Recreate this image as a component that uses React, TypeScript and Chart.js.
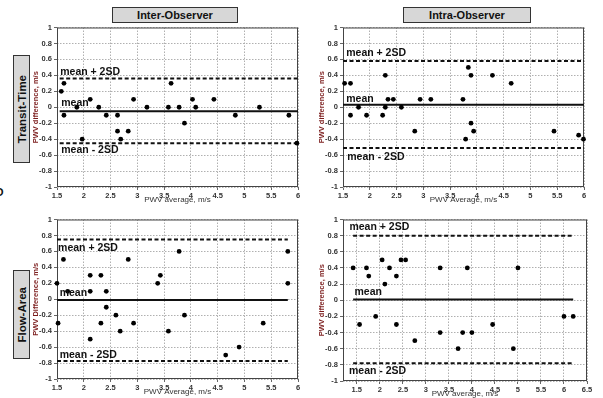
import React, { useEffect, useRef } from "react";
import { Chart, registerables } from "chart.js";
Chart.register(...registerables);

// ---------- Data ----------
// Panel 1: Transit-Time, Inter-Observer
const ttInterAvg = [1.58, 1.63, 1.63, 1.87, 2.12, 1.97, 2.28, 2.42, 2.63, 2.63, 2.69, 2.83, 2.93, 3.18, 3.58, 3.63, 3.78, 3.88, 4.03, 4.09, 4.43, 4.83, 5.28, 5.83, 5.98];
const ttInterDiff = [0.2, 0.3, -0.1, 0, 0.1, -0.4, 0, -0.1, -0.1, -0.3, -0.4, -0.3, 0.1, 0, 0, 0.3, 0, -0.2, 0.1, 0, 0.1, -0.1, 0, -0.1, -0.45];
const ttInterLimits = [-0.05, 0.36, -0.45]; // mean, mean+2SD, mean-2SD
const ttInterSpan = [1.55, 6.0];

// Panel 2: Transit-Time, Intra-Observer
const ttIntraAvg = [1.53, 1.64, 1.64, 1.79, 1.94, 2.24, 2.29, 2.29, 2.34, 2.44, 2.59, 2.84, 2.94, 3.14, 3.74, 3.84, 3.89, 3.79, 3.89, 3.94, 4.29, 4.64, 5.44, 5.9, 5.99];
const ttIntraDiff = [0.3, 0.3, -0.1, 0, -0.1, -0.1, 0.4, 0, 0.1, 0.1, 0, -0.3, 0.1, 0.1, 0.1, 0.5, 0.4, -0.4, -0.2, -0.3, 0.4, 0.3, -0.3, -0.35, -0.4];
const ttIntraLimits = [0.03, 0.58, -0.51];
const ttIntraSpan = [1.5, 6.0];

// Panel 3: Flow-Area, Inter-Observer
const faInterAvg = [1.5, 1.52, 1.62, 1.7, 2.12, 2.12, 2.12, 2.32, 2.32, 2.42, 2.42, 2.6, 2.68, 2.83, 2.93, 3.38, 3.43, 3.58, 3.78, 3.88, 4.65, 4.9, 5.35, 5.81, 5.81];
const faInterDiff = [0.2, -0.3, 0.5, 0.1, 0.3, 0.1, -0.5, 0.3, -0.3, 0.1, -0.1, -0.2, -0.4, 0.5, -0.3, 0.2, 0.3, -0.4, 0.6, -0.2, -0.7, -0.6, -0.3, 0.6, 0.2];
const faInterLimits = [-0.01, 0.75, -0.775];
const faInterSpan = [1.5, 5.81];

// Panel 4: Flow-Area, Intra-Observer
const faIntraAvg = [1.42, 1.56, 1.71, 1.76, 1.91, 2.05, 2.11, 2.21, 2.36, 2.36, 2.46, 2.56, 2.76, 3.31, 3.31, 3.7, 3.8, 3.9, 4.0, 4.45, 4.9, 5.0, 6.0, 6.2];
const faIntraDiff = [0.4, -0.3, 0.4, 0.3, -0.2, 0.5, 0.2, 0.4, 0.3, -0.3, 0.5, 0.5, -0.5, 0.4, -0.4, -0.6, -0.4, 0.4, -0.4, -0.3, -0.6, 0.4, -0.2, -0.2];
const faIntraLimits = [0.01, 0.8, -0.78];
const faIntraSpan = [1.42, 6.2];

const limitLabels = ["mean", "mean + 2SD", "mean - 2SD"];
// label anchor positions (data units): [x, y] for mean, +2SD, -2SD
const ttInterLabelPos = [[1.58, 0.05], [1.56, 0.44], [1.58, -0.54]];
const ttIntraLabelPos = [[1.56, 0.1], [1.56, 0.68], [1.58, -0.62]];
const faInterLabelPos = [[1.55, 0.08], [1.52, 0.64], [1.55, -0.7]];
const faIntraLabelPos = [[1.45, 0.1], [1.34, 0.9], [1.33, -0.88]];

const columnTitles = ["Inter-Observer", "Intra-Observer"];
const rowTitles = ["Transit-Time", "Flow-Area"];

// ---------- Chart panel ----------
type PanelProps = {
  left: number; top: number; w: number; h: number;
  xMin: number; xMax: number;
  avg: number[]; diff: number[]; limits: number[]; span: number[];
  labelPos: number[][];
  xTitle: string; yTitle: string;
};

const FONT = "Arial, 'Liberation Sans', sans-serif";
const Y_AXIS_W = 30;
const X_AXIS_H = 19;
const PAD_T = 6;
const PAD_R = 8;

function Panel(p: PanelProps) {
  const ref = useRef<HTMLCanvasElement | null>(null);
  const cw = p.w + Y_AXIS_W + PAD_R;
  const ch = p.h + PAD_T + X_AXIS_H;

  useEffect(() => {
    if (!ref.current) return;
    const framePlugin = {
      id: "frame",
      beforeDatasetsDraw(chart: any) {
        const { ctx, chartArea: a } = chart;
        ctx.save();
        ctx.strokeStyle = "#444";
        ctx.lineWidth = 1;
        ctx.strokeRect(a.left + 0.5, a.top + 0.5, a.right - a.left - 1, a.bottom - a.top - 1);
        ctx.restore();
      },
    };
    const labelPlugin = {
      id: "limitLabels",
      afterDatasetsDraw(chart: any) {
        const { ctx } = chart;
        const xs = chart.scales.x;
        const ys = chart.scales.y;
        ctx.save();
        ctx.font = `bold 10.5px ${FONT}`;
        ctx.fillStyle = "#111";
        ctx.textAlign = "left";
        ctx.textBaseline = "middle";
        limitLabels.forEach((t, i) => {
          const [lx, ly] = p.labelPos[i];
          ctx.fillText(t, xs.getPixelForValue(lx), ys.getPixelForValue(ly));
        });
        ctx.restore();
      },
    };

    const lineDs = (v: number, dashed: boolean) => ({
      type: "line" as const,
      data: [{ x: p.span[0], y: v }, { x: p.span[1], y: v }],
      borderColor: "#111",
      borderWidth: 2,
      borderDash: dashed ? [4, 2.5] : [],
      pointRadius: 0,
      fill: false,
    });

    const tickCb = (v: any) => String(Math.round(Number(v) * 10) / 10);

    const chart = new Chart(ref.current, {
      type: "scatter",
      data: {
        datasets: [
          {
            type: "scatter",
            data: p.avg.map((x, i) => ({ x, y: p.diff[i] })),
            backgroundColor: "#000",
            borderColor: "#000",
            borderWidth: 0,
            pointRadius: 2.4,
            clip: false as any,
          } as any,
          lineDs(p.limits[0], false),
          lineDs(p.limits[1], true),
          lineDs(p.limits[2], true),
        ],
      },
      options: {
        animation: false,
        responsive: false,
        devicePixelRatio: 1,
        layout: { padding: { top: PAD_T, right: PAD_R, left: 0, bottom: 0 } },
        plugins: { legend: { display: false }, tooltip: { enabled: false } },
        scales: {
          x: {
            type: "linear",
            min: p.xMin,
            max: p.xMax,
            afterFit: (s: any) => { s.height = X_AXIS_H; },
            ticks: {
              stepSize: 0.5,
              includeBounds: false,
              autoSkip: false,
              maxRotation: 0,
              padding: 1.5,
              color: "#333",
              font: { family: FONT, size: 7.5, weight: "bold" },
              callback: tickCb,
            },
            grid: {
              color: "#b0b0b0",
              lineWidth: 1,
              tickLength: 3,
              tickColor: "#666",
            },
            border: { display: false, dash: [1.5, 1.5] },
            title: {
              display: true,
              text: p.xTitle,
              color: "#333",
              font: { family: FONT, size: 8, weight: "normal" },
              padding: { top: 0, bottom: 1.5 },
            },
          },
          y: {
            type: "linear",
            min: -1,
            max: 1,
            afterFit: (s: any) => { s.width = Y_AXIS_W; },
            ticks: {
              stepSize: 0.2,
              autoSkip: false,
              padding: 2,
              color: "#333",
              font: { family: FONT, size: 7.5, weight: "bold" },
              callback: tickCb,
            },
            grid: {
              color: "#b0b0b0",
              lineWidth: 1,
              tickLength: 3,
              tickColor: "#666",
            },
            border: { display: false, dash: [1.5, 1.5] },
            title: {
              display: true,
              text: p.yTitle,
              color: "#7b1c1c",
              font: { family: FONT, size: 7.5, weight: "bold" },
              padding: { top: 4, bottom: 0 },
            },
          },
        },
      } as any,
      plugins: [framePlugin, labelPlugin],
    });
    return () => chart.destroy();
  }, []);

  return (
    <canvas
      ref={ref}
      width={cw}
      height={ch}
      style={{ position: "absolute", left: p.left - Y_AXIS_W, top: p.top - PAD_T, width: cw, height: ch }}
    />
  );
}

const boxStyle: React.CSSProperties = {
  position: "absolute",
  background: "#d7d7d7",
  border: "1.5px solid #333",
  boxSizing: "border-box",
  display: "flex",
  alignItems: "center",
  justifyContent: "center",
  fontFamily: FONT,
  fontWeight: "bold",
  color: "#111",
};

function ColHeader({ left, width, text }: { left: number; width: number; text: string }) {
  return (
    <div style={{ ...boxStyle, left, top: 7, width, height: 16, fontSize: 11 }}>{text}</div>
  );
}

function RowHeader({ top, height, text }: { top: number; height: number; text: string }) {
  return (
    <div style={{ ...boxStyle, left: 13, top, width: 17, height, fontSize: 11.5 }}>
      <span style={{ writingMode: "vertical-rl", transform: "rotate(180deg)", whiteSpace: "nowrap" }}>{text}</span>
    </div>
  );
}

export default function App() {
  return (
    <div
      style={{
        position: "absolute",
        left: 0,
        top: 0,
        width: 603,
        height: 398,
        background: "#fff",
        overflow: "hidden",
      }}
    >
      <ColHeader left={112} width={126} text={columnTitles[0]} />
      <ColHeader left={403} width={128} text={columnTitles[1]} />
      <RowHeader top={55} height={108} text={rowTitles[0]} />
      <RowHeader top={270} height={89} text={rowTitles[1]} />
      <div style={{ position: "absolute", left: -5, top: 186, fontFamily: FONT, fontWeight: "bold", fontSize: 11, color: "#111" }}>O</div>

      <Panel left={57} top={27} w={241} h={160} xMin={1.5} xMax={6}
        avg={ttInterAvg} diff={ttInterDiff} limits={ttInterLimits} span={ttInterSpan} labelPos={ttInterLabelPos}
        xTitle="PWV average, m/s" yTitle="PWV difference, m/s" />
      <Panel left={343} top={27} w={241} h={160} xMin={1.5} xMax={6}
        avg={ttIntraAvg} diff={ttIntraDiff} limits={ttIntraLimits} span={ttIntraSpan} labelPos={ttIntraLabelPos}
        xTitle="PWV Average, m/s" yTitle="PWV difference, m/s" />
      <Panel left={57} top={219} w={241} h={160} xMin={1.5} xMax={6}
        avg={faInterAvg} diff={faInterDiff} limits={faInterLimits} span={faInterSpan} labelPos={faInterLabelPos}
        xTitle="PWV Average, m/s" yTitle="PWV Difference, m/s" />
      <Panel left={343} top={219} w={244} h={162} xMin={1.2} xMax={6.5}
        avg={faIntraAvg} diff={faIntraDiff} limits={faIntraLimits} span={faIntraSpan} labelPos={faIntraLabelPos}
        xTitle="PWV average, m/s" yTitle="PWV difference, m/s" />
    </div>
  );
}
